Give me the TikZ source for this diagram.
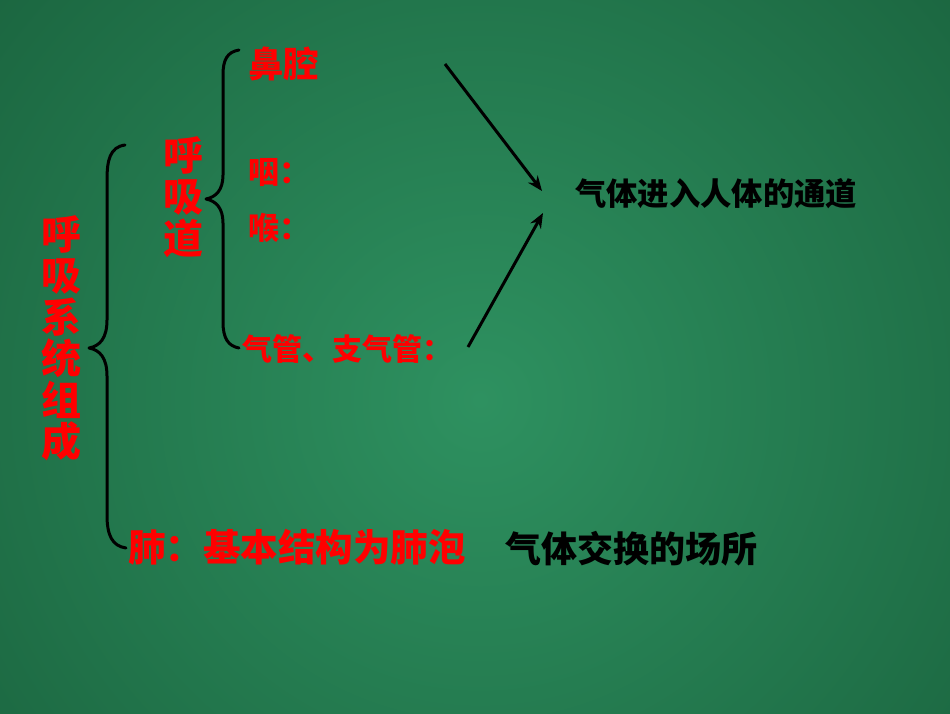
\documentclass[tikz,border=0pt]{standalone}
\usepackage{fontspec}
\newfontfamily\cjk{Noto Sans CJK SC}
\usetikzlibrary{arrows.meta}
\definecolor{bgin}{HTML}{2E9160}
\definecolor{bgout}{HTML}{1B6640}
\begin{document}
\begin{tikzpicture}[x=1pt,y=-1pt,
  lbl/.style={inner sep=0pt, anchor=west},
  redt/.style={text=red},
  blackt/.style={text=black},
  vert/.style={inner sep=0pt, align=center, text=red},
  bracepath/.style={line width=3pt, line cap=round, line join=round, black},
  arr/.style={line width=3pt, black, -{Stealth[length=15pt,width=12pt]}}]
\useasboundingbox (0,0) rectangle (950,713);
\begin{scope}
\clip (0,0) rectangle (950,713);
\shade[inner color=bgin, outer color=bgout] (480,400) circle (640);
\end{scope}
% vertical titles
\node[vert, font=\cjk\bfseries\fontsize{40}{41.5}\selectfont] (sys) at (61,338) {呼\\吸\\系\\统\\组\\成};
\node[vert, font=\cjk\bfseries\fontsize{40}{41.5}\selectfont] (dao) at (183,197) {呼\\吸\\道};
% items
\node[lbl, redt, font=\cjk\bfseries\fontsize{35.5}{40}\selectfont] (bi) at (248,64) {鼻腔};
\node[lbl, redt, font=\cjk\bfseries\fontsize{31}{36}\selectfont] (yan) at (248,173) {咽：};
\node[lbl, redt, font=\cjk\bfseries\fontsize{30}{34}\selectfont] (qg) at (242,349) {气管、支气管：};
\node[lbl, redt, font=\cjk\bfseries\fontsize{31}{36}\selectfont] (hou) at (248,228) {喉：};
\node[lbl, blackt, font=\cjk\bfseries\fontsize{31.3}{34}\selectfont] (td) at (575,194) {气体进入人体的通道};
\node[lbl, redt, font=\cjk\bfseries\fontsize{37.5}{42}\selectfont] (fei) at (128,547) {肺：基本结构为肺泡};
\node[lbl, blackt, font=\cjk\bfseries\fontsize{36}{40}\selectfont] (jh) at (505,549) {气体交换的场所};
% braces
\coordinate (b1t) at (125,145);
\coordinate (b1m) at (89,348);
\coordinate (b1b) at (126,548);
\draw[bracepath] (b1t) .. controls (110,147) and (107,160) .. (107,180)
  -- (107,320) .. controls (107,338) and (100,346) .. (b1m)
  .. controls (100,350) and (107,358) .. (107,376)
  -- (107,515) .. controls (107,535) and (112,546) .. (b1b);
\coordinate (b2t) at (239,50);
\coordinate (b2m) at (206,199);
\coordinate (b2b) at (239,348);
\draw[bracepath] (b2t) .. controls (227,52) and (223,60) .. (223,75)
  -- (223,175) .. controls (223,190) and (216,197) .. (b2m)
  .. controls (216,201) and (223,208) .. (223,223)
  -- (223,322) .. controls (223,338) and (228,346) .. (b2b);
% arrows
\coordinate (a1s) at (445,64);
\coordinate (a1e) at (542,191);
\coordinate (a2s) at (468,347);
\coordinate (a2e) at (543,213);
\draw[arr] (a1s) -- (a1e);
\draw[arr] (a2s) -- (a2e);
\end{tikzpicture}
\end{document}
